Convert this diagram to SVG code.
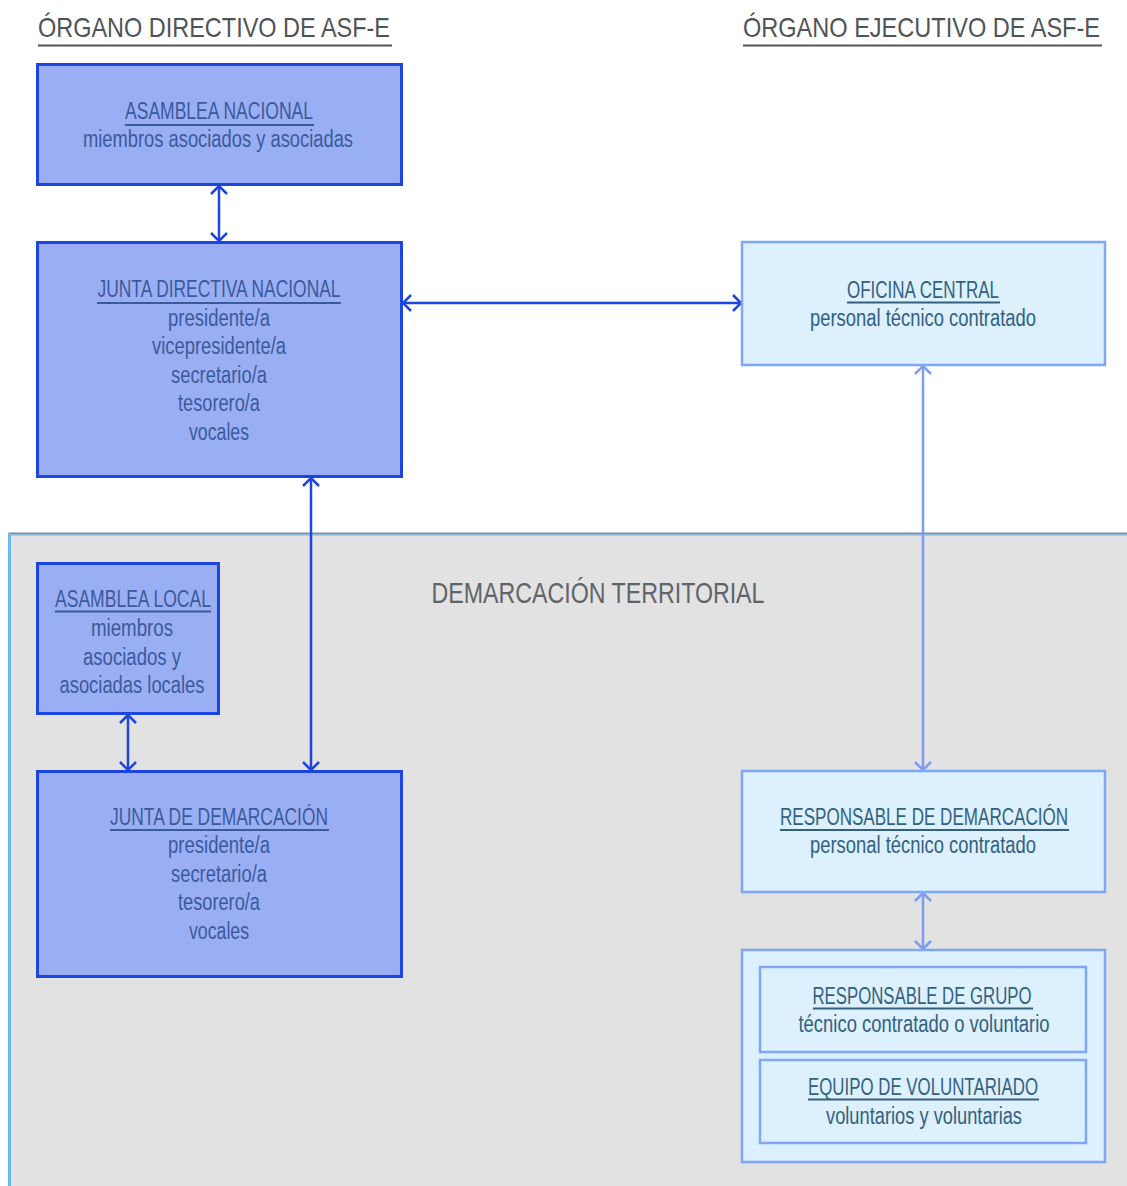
<svg xmlns="http://www.w3.org/2000/svg" width="1127" height="1186" viewBox="0 0 1127 1186">
<style>
text{font-family:"Liberation Sans",Arial,sans-serif;text-anchor:middle}
.title{font-size:28px;fill:#505458;text-anchor:start}
.dark rect{fill:#9aaef4;stroke:#1d45e0;stroke-width:3}
.dark text{font-size:23px;fill:#3b5a9c}
.dark line{stroke:#3b5a9c;stroke-width:2}
.light rect{fill:#dcf0fe;stroke:#80a6f6;stroke-width:2.5}
.light text{font-size:23px;fill:#33607e}
.light line{stroke:#33607e;stroke-width:2}
.cd{stroke:#1d45e0;stroke-width:2.5;fill:none}
.cl{stroke:#7f9cf0;stroke-width:2.5;fill:none}
</style>
<defs>
<marker id="ad" viewBox="0 0 10 18" refX="9" refY="9" markerWidth="10" markerHeight="18" markerUnits="userSpaceOnUse" orient="auto-start-reverse"><path d="M1,1 L9,9 L1,17" fill="none" stroke="#1d45e0" stroke-width="2.5"/></marker>
<marker id="al" viewBox="0 0 10 18" refX="9" refY="9" markerWidth="10" markerHeight="18" markerUnits="userSpaceOnUse" orient="auto-start-reverse"><path d="M1,1 L9,9 L1,17" fill="none" stroke="#7f9cf0" stroke-width="2.5"/></marker>
</defs>
<rect width="1127" height="1186" fill="#ffffff"/>
<g id="region">
<rect x="8" y="533" width="1119" height="653" fill="#e2e2e2"/>
<line x1="8" y1="533.5" x2="1127" y2="533.5" stroke="#8a8c98" stroke-width="2"/>
<line x1="8" y1="535" x2="1127" y2="535" stroke="#6cb8f2" stroke-width="1"/>
<line x1="9.5" y1="533" x2="9.5" y2="1186" stroke="#6cb8f2" stroke-width="3"/>
<text x="598" y="603" textLength="333" lengthAdjust="spacingAndGlyphs" style="font-size:30px;fill:#606468">DEMARCACIÓN TERRITORIAL</text>
</g>
<g id="titles">
<text class="title" x="38" y="37" textLength="352" lengthAdjust="spacingAndGlyphs">ÓRGANO DIRECTIVO DE ASF-E</text>
<line x1="38" y1="45.5" x2="392" y2="45.5" stroke="#505458" stroke-width="2"/>
<text class="title" x="743" y="37" textLength="357" lengthAdjust="spacingAndGlyphs">ÓRGANO EJECUTIVO DE ASF-E</text>
<line x1="743" y1="45.5" x2="1102" y2="45.5" stroke="#505458" stroke-width="2"/>
</g>
<g id="connectors">
<line class="cd" x1="219" y1="186" x2="219" y2="241" marker-start="url(#ad)" marker-end="url(#ad)"/>
<line class="cd" x1="403" y1="303" x2="741" y2="303" marker-start="url(#ad)" marker-end="url(#ad)"/>
<line class="cd" x1="311" y1="478" x2="311" y2="770" marker-start="url(#ad)" marker-end="url(#ad)"/>
<line class="cd" x1="128" y1="715" x2="128" y2="770" marker-start="url(#ad)" marker-end="url(#ad)"/>
<line class="cl" x1="923" y1="366" x2="923" y2="770" marker-start="url(#al)" marker-end="url(#al)"/>
<line class="cl" x1="923" y1="893" x2="923" y2="949" marker-start="url(#al)" marker-end="url(#al)"/>
</g>
<g id="asamblea-nacional" class="dark">
<rect x="37.5" y="64.5" width="364" height="120"/>
<text x="219" y="119" textLength="188" lengthAdjust="spacingAndGlyphs">ASAMBLEA NACIONAL</text>
<line x1="125" y1="125" x2="314" y2="125"/>
<text x="218" y="147" textLength="270" lengthAdjust="spacingAndGlyphs">miembros asociados y asociadas</text>
</g>
<g id="junta-directiva-nacional" class="dark">
<rect x="37.5" y="242.5" width="364" height="234"/>
<text x="219" y="297" textLength="243" lengthAdjust="spacingAndGlyphs">JUNTA DIRECTIVA NACIONAL</text>
<line x1="97" y1="303" x2="341" y2="303"/>
<text x="219" y="326" textLength="102" lengthAdjust="spacingAndGlyphs">presidente/a</text>
<text x="219" y="354" textLength="134" lengthAdjust="spacingAndGlyphs">vicepresidente/a</text>
<text x="219" y="383" textLength="96" lengthAdjust="spacingAndGlyphs">secretario/a</text>
<text x="219" y="411" textLength="82" lengthAdjust="spacingAndGlyphs">tesorero/a</text>
<text x="219" y="440" textLength="60" lengthAdjust="spacingAndGlyphs">vocales</text>
</g>
<g id="oficina-central" class="light">
<rect x="742" y="242" width="363" height="123"/>
<text x="923" y="298" textLength="152" lengthAdjust="spacingAndGlyphs">OFICINA CENTRAL</text>
<line x1="847" y1="302.5" x2="1000" y2="302.5"/>
<text x="923" y="326" textLength="226" lengthAdjust="spacingAndGlyphs">personal técnico contratado</text>
</g>
<g id="asamblea-local" class="dark">
<rect x="37.5" y="563.5" width="181" height="150"/>
<text x="133" y="607" textLength="156" lengthAdjust="spacingAndGlyphs">ASAMBLEA LOCAL</text>
<line x1="55" y1="611.5" x2="211" y2="611.5"/>
<text x="132" y="636" textLength="82" lengthAdjust="spacingAndGlyphs">miembros</text>
<text x="132" y="665" textLength="98" lengthAdjust="spacingAndGlyphs">asociados y</text>
<text x="132" y="693" textLength="145" lengthAdjust="spacingAndGlyphs">asociadas locales</text>
</g>
<g id="junta-demarcacion" class="dark">
<rect x="37.5" y="771.5" width="364" height="205"/>
<text x="219" y="825" textLength="218" lengthAdjust="spacingAndGlyphs">JUNTA DE DEMARCACIÓN</text>
<line x1="110" y1="830" x2="329" y2="830"/>
<text x="219" y="853" textLength="102" lengthAdjust="spacingAndGlyphs">presidente/a</text>
<text x="219" y="882" textLength="96" lengthAdjust="spacingAndGlyphs">secretario/a</text>
<text x="219" y="910" textLength="82" lengthAdjust="spacingAndGlyphs">tesorero/a</text>
<text x="219" y="939" textLength="60" lengthAdjust="spacingAndGlyphs">vocales</text>
</g>
<g id="responsable-demarcacion" class="light">
<rect x="742" y="771" width="363" height="121"/>
<text x="924" y="825" textLength="288" lengthAdjust="spacingAndGlyphs">RESPONSABLE DE DEMARCACIÓN</text>
<line x1="780" y1="830" x2="1069" y2="830"/>
<text x="923" y="853" textLength="226" lengthAdjust="spacingAndGlyphs">personal técnico contratado</text>
</g>
<g id="grupo" class="light">
<rect x="742" y="950" width="363" height="212"/>
<rect x="760" y="967" width="326" height="85"/>
<text x="922" y="1004" textLength="219" lengthAdjust="spacingAndGlyphs">RESPONSABLE DE GRUPO</text>
<line x1="813" y1="1008.5" x2="1033" y2="1008.5"/>
<text x="924" y="1032" textLength="251" lengthAdjust="spacingAndGlyphs">técnico contratado o voluntario</text>
<rect x="760" y="1060" width="326" height="83"/>
<text x="923" y="1095" textLength="230" lengthAdjust="spacingAndGlyphs">EQUIPO DE VOLUNTARIADO</text>
<line x1="808" y1="1099.5" x2="1039" y2="1099.5"/>
<text x="924" y="1124" textLength="196" lengthAdjust="spacingAndGlyphs">voluntarios y voluntarias</text>
</g>
</svg>
